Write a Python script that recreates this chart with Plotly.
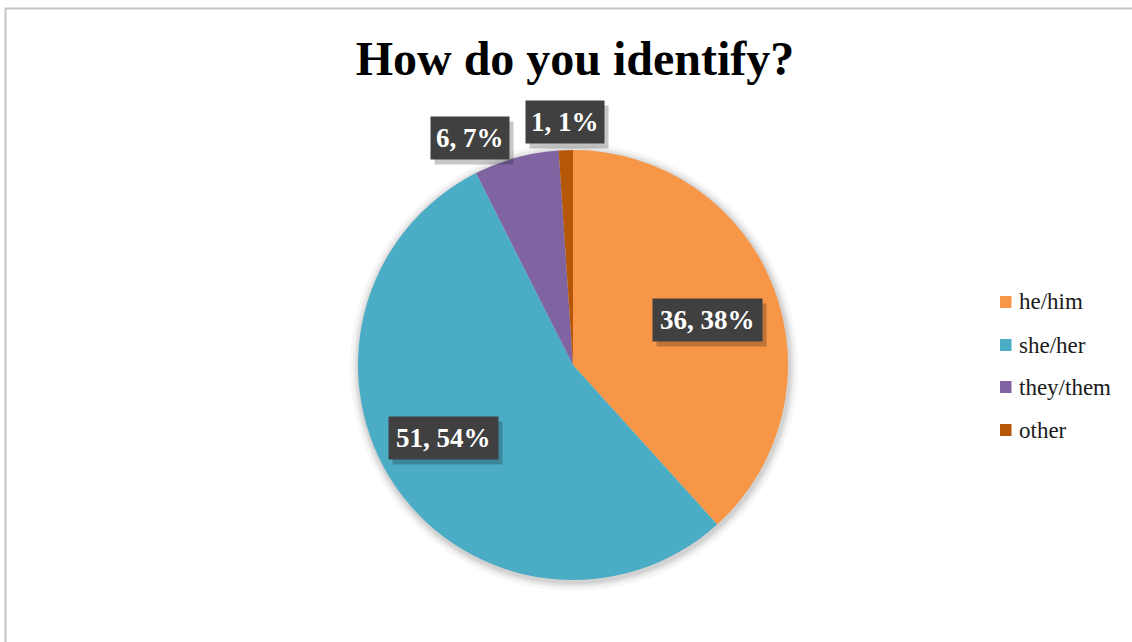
import math
import plotly.graph_objects as go

# Survey responses
labels = ["he/him", "she/her", "they/them", "other"]
counts = [36, 51, 6, 1]
pct_labels = [38, 54, 7, 1]          # percentages as printed on the data labels
colors = ["#F79646", "#4BACC6", "#8064A2", "#B65708"]

W, H = 1132, 642
cx, cy, r = 573, 365, 215          # pie centre and radius in pixels
SERIF = "Liberation Serif, Times New Roman, serif"

def px(x):
    return x / W

def py(y):
    return 1 - y / H

total = sum(counts)

fig = go.Figure()
fig.add_trace(go.Pie(
    labels=labels,
    values=counts,
    sort=False,
    direction="clockwise",
    rotation=0,
    marker=dict(colors=colors, line=dict(width=0)),
    textinfo="none",
    hoverinfo="label+value+percent",
    showlegend=False,
    domain=dict(x=[px(cx - r), px(cx + r)], y=[py(cy + r), py(cy - r)]),
))

shapes = []
# soft shadow around the pie
for grow, op in [(9, 0.03), (6, 0.04), (4, 0.05), (2, 0.06)]:
    rr = r + grow
    shapes.append(dict(
        type="circle", xref="paper", yref="paper", layer="below",
        x0=px(cx + 1 - rr), x1=px(cx + 1 + rr),
        y0=py(cy + 2 + rr), y1=py(cy + 2 - rr),
        fillcolor=f"rgba(0,0,0,{op})", line=dict(width=0),
    ))

# chart frame
shapes.append(dict(type="line", xref="paper", yref="paper",
                   x0=px(5), x1=1, y0=py(8.5), y1=py(8.5),
                   line=dict(color="#c4c4c4", width=2)))
shapes.append(dict(type="line", xref="paper", yref="paper",
                   x0=px(5.5), x1=px(5.5), y0=0, y1=py(8),
                   line=dict(color="#c4c4c4", width=2)))

annotations = []

# data labels: "count, percent" boxes placed along each slice's mid-angle
radial = [0.66, 0.69, 1.16, 1.13]
angle_nudge = [2.5, 5.0, -9.0, 0.0]
cum = 0
for i, c in enumerate(counts):
    mid = (cum + c / 2) / total
    cum += c
    theta = math.radians(mid * 360 + angle_nudge[i])
    lx = cx + r * radial[i] * math.sin(theta)
    ly = cy - r * radial[i] * math.cos(theta)
    plain = f"{c}, {pct_labels[i]}%"
    bw, bh = 15.5 * len(plain), 42
    # drop shadow (an empty box of the same size, offset down-right)
    annotations.append(dict(
        x=px(lx + 4), y=py(ly + 5), xref="paper", yref="paper",
        xanchor="center", yanchor="middle",
        text=" ", showarrow=False, width=bw, height=bh,
        bgcolor="rgba(0,0,0,0.22)", borderpad=0,
    ))
    annotations.append(dict(
        x=px(lx), y=py(ly), xref="paper", yref="paper",
        xanchor="center", yanchor="middle",
        text=f"<b>{plain}</b>", showarrow=False, width=bw, height=bh,
        font=dict(family=SERIF, size=27, color="white"),
        bgcolor="#404040", borderpad=0,
    ))

# legend
leg_y = [302, 345, 387, 430]
for lab, col, ly in zip(labels, colors, leg_y):
    shapes.append(dict(type="rect", xref="paper", yref="paper",
                       x0=px(1000), x1=px(1011.5), y0=py(ly + 6), y1=py(ly - 6),
                       fillcolor=col, line=dict(width=0)))
    annotations.append(dict(
        x=px(1017), y=py(ly), xref="paper", yref="paper",
        xanchor="left", yanchor="middle", text=lab, showarrow=False,
        font=dict(family=SERIF, size=23, color="#1a1a1a"),
    ))

fig.update_layout(
    width=W, height=H,
    margin=dict(l=0, r=0, t=0, b=0),
    paper_bgcolor="white",
    plot_bgcolor="white",
    title=dict(
        text="<b>How do you identify?</b>",
        x=px(575), xanchor="center",
        y=py(58), yanchor="middle",
        font=dict(family=SERIF, size=48, color="black"),
    ),
    shapes=shapes,
    annotations=annotations,
)

fig.write_html("out.html")
